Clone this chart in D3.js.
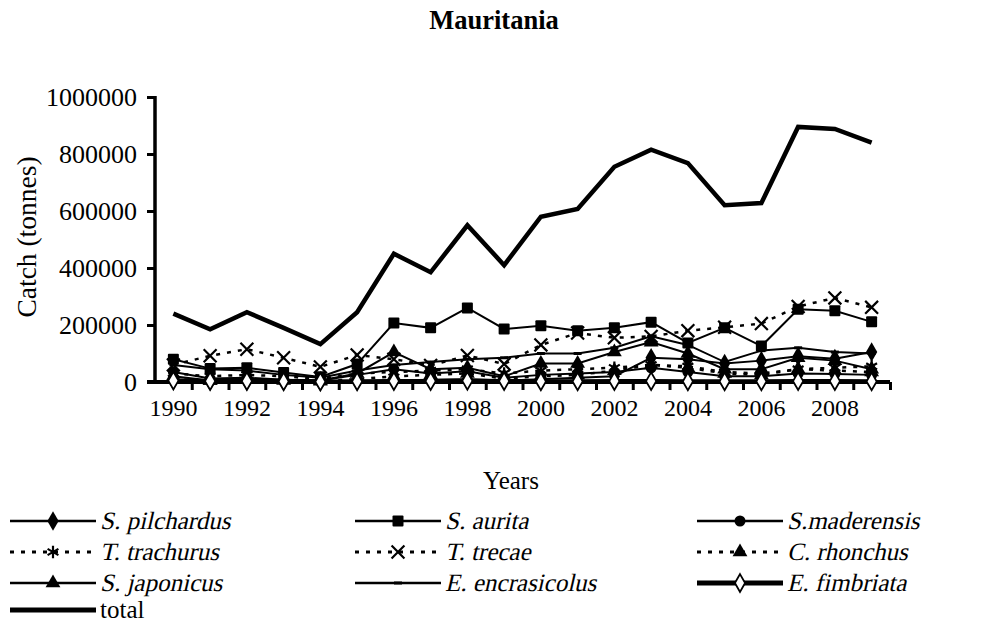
<!DOCTYPE html>
<html>
<head>
<meta charset="utf-8">
<script src="https://cdn.jsdelivr.net/npm/d3@7"></script>
<style>
  body { margin: 0; background: #fff; }
</style>
</head>
<body>
<div id="chart"></div>
<script>
// data (tonnes)
var years = d3.range(1990, 2010);
var yTicks = [0, 200000, 400000, 600000, 800000, 1000000];
var xLabels = [1990, 1992, 1994, 1996, 1998, 2000, 2002, 2004, 2006, 2008];

var sPilchardus   = [5000,3000,3000,2000,1000,3000,5000,8000,10000,5000,10000,15000,20000,85000,80000,65000,75000,90000,82000,105000];
var sAurita       = [80000,47000,50000,33000,18000,63000,207000,190000,260000,186000,197000,180000,190000,210000,137000,190000,126000,255000,250000,211000];
var sMaderensis   = [35000,12000,15000,8000,5000,25000,45000,30000,38000,15000,25000,30000,35000,50000,35000,20000,20000,30000,28000,25000];
var tTrachurus    = [30000,20000,25000,20000,10000,30000,35000,40000,45000,30000,40000,45000,50000,60000,55000,35000,30000,45000,50000,55000];
var tTrecae       = [60000,92000,115000,85000,53000,95000,80000,58000,93000,63000,130000,172000,155000,160000,180000,192000,205000,265000,295000,262000];
var cRhonchus     = [10000,5000,8000,5000,3000,10000,20000,25000,30000,12000,20000,25000,40000,60000,50000,30000,25000,45000,40000,35000];
var sJaponicus    = [20000,5000,10000,8000,5000,30000,105000,45000,50000,20000,65000,65000,105000,140000,100000,45000,45000,85000,75000,45000];
var eEncrasicolus = [60000,45000,40000,25000,15000,40000,60000,70000,80000,85000,100000,100000,120000,160000,130000,70000,110000,120000,105000,100000];
var eFimbriata    = [5000,3000,3000,2000,1000,2000,3000,3000,4000,3000,2000,2000,3000,3000,2000,2000,2000,3000,3000,2000];
var total         = [240000,185000,245000,190000,133000,245000,450000,385000,550000,410000,580000,607000,755000,815000,768000,620000,628000,895000,888000,840000];

var series = [
  {name: "S. pilchardus",   values: sPilchardus,   marker: "diamond", dash: null, width: 2},
  {name: "S. aurita",       values: sAurita,       marker: "square",  dash: null, width: 2},
  {name: "S.maderensis",    values: sMaderensis,   marker: "circle",  dash: null, width: 2},
  {name: "T. trachurus",    values: tTrachurus,    marker: "star",    dash: "4,7", width: 2.5},
  {name: "T. trecae",       values: tTrecae,       marker: "x",       dash: "4,7", width: 2.5},
  {name: "C. rhonchus",     values: cRhonchus,     marker: "triangle",dash: "4,7", width: 2.5},
  {name: "S. japonicus",    values: sJaponicus,    marker: "triangle",dash: null, width: 2},
  {name: "E. encrasicolus", values: eEncrasicolus, marker: "dash",    dash: null, width: 2},
  {name: "E. fimbriata",    values: eFimbriata,    marker: "odiamond",dash: null, width: 4.5},
  {name: "total",           values: total,         marker: null,      dash: null, width: 4.5}
];

var W = 989, H = 625;
var plotLeft = 155, plotRight = 890, plotTop = 97, plotBottom = 382;
var serif = '"Liberation Serif", "Times New Roman", Times, serif';

var svg = d3.select("#chart").append("svg")
    .attr("width", W)
    .attr("height", H);

var x = d3.scaleBand().domain(years).range([plotLeft, plotRight]);
var y = d3.scaleLinear().domain([0, 1000000]).range([plotBottom, plotTop]);

// title
svg.append("text")
   .attr("x", 494).attr("y", 29)
   .attr("text-anchor", "middle")
   .style("font-weight", "bold")
   .style("font-size", "26.5px")
   .text("Mauritania");

//y axis
var yAxis = svg.append("g")
   .attr("transform", "translate(" + plotLeft + ",0)")
   .call(d3.axisLeft(y).tickValues(yTicks).tickSize(8).tickPadding(10).tickFormat(d3.format("d")));
yAxis.select(".domain").attr("stroke", "#000").attr("stroke-width", 3.5)
   .attr("d", "M0," + (plotTop - 1) + "V" + plotBottom);
yAxis.selectAll(".tick line").attr("stroke-width", 3);
yAxis.selectAll(".tick text").style("font-size", "26px");

svg.append("text")
   .attr("transform", "translate(36,237) rotate(-90)")
   .attr("text-anchor", "middle")
   .style("font-size", "27.5px")
   .text("Catch (tonnes)");

// x axis: tick marks between the categories
var edges = d3.scaleLinear().domain([0, years.length]).range([plotLeft, plotRight]);
var xTickAxis = svg.append("g")
   .attr("transform", "translate(0," + plotBottom + ")")
   .call(d3.axisBottom(edges).tickValues(d3.range(1, years.length + 1)).tickSize(8).tickFormat(""));
xTickAxis.select(".domain").attr("stroke-width", 4).attr("d", "M" + (plotLeft - 8) + ",0H" + plotRight);
xTickAxis.selectAll(".tick line").attr("stroke-width", 3);

var xLabAxis = svg.append("g")
   .attr("transform", "translate(0," + plotBottom + ")")
   .call(d3.axisBottom(x).tickValues(xLabels).tickSize(0).tickPadding(17));
xLabAxis.select(".domain").remove();
xLabAxis.selectAll(".tick text").style("font-size", "24px");

svg.append("text")
   .attr("x", 511).attr("y", 489)
   .attr("text-anchor", "middle")
   .style("font-size", "25px")
   .text("Years");

// markers
function drawMarker(g, type, cx, cy) {
  if (type === "diamond") {
    g.append("path").attr("d", d3.symbol(d3.symbolDiamond, 110)())
     .attr("transform", "translate(" + cx + "," + cy + ")").attr("fill", "#000");
  } else if (type === "odiamond") {
    g.append("path").attr("d", d3.symbol(d3.symbolDiamond, 90)())
     .attr("transform", "translate(" + cx + "," + cy + ")")
     .attr("fill", "#fff").attr("stroke", "#000").attr("stroke-width", 1.8);
  } else if (type === "square") {
    g.append("rect").attr("x", cx - 5.5).attr("y", cy - 5.5).attr("width", 11).attr("height", 11)
     .attr("rx", 1).attr("fill", "#000");
  } else if (type === "circle") {
    g.append("circle").attr("cx", cx).attr("cy", cy).attr("r", 5.5).attr("fill", "#000");
  } else if (type === "triangle") {
    g.append("path").attr("d", d3.symbol(d3.symbolTriangle, 95)())
     .attr("transform", "translate(" + cx + "," + cy + ")").attr("fill", "#000");
  } else if (type === "x") {
    g.append("path").attr("d", d3.symbol(d3.symbolTimes, 110)())
     .attr("transform", "translate(" + cx + "," + cy + ")")
     .attr("fill", "none").attr("stroke", "#000").attr("stroke-width", 2.2);
  } else if (type === "star") {
    g.append("path").attr("d", d3.symbol(d3.symbolAsterisk, 110)())
     .attr("transform", "translate(" + cx + "," + cy + ")")
     .attr("fill", "none").attr("stroke", "#000").attr("stroke-width", 2.2);
  } else if (type === "dash") {
    g.append("rect").attr("x", cx - 4).attr("y", cy - 1.5).attr("width", 8).attr("height", 3).attr("fill", "#000");
  }
}

var line = d3.line()
   .x(function(d, i) { return x(years[i]) + x.bandwidth() / 2; })
   .y(function(d) { return y(d); });

var plot = svg.append("g");
series.forEach(function(s) {
  var g = plot.append("g");
  g.append("path")
   .datum(s.values)
   .attr("d", line)
   .attr("fill", "none")
   .attr("stroke", "#000")
   .attr("stroke-width", s.width)
   .attr("stroke-dasharray", s.dash);
  if (s.marker) {
    s.values.forEach(function(v, i) {
      drawMarker(g, s.marker, x(years[i]) + x.bandwidth() / 2, y(v));
    });
  }
});

// legend
var colX = [10, 355, 697];
var rowY = [521, 552, 583, 610];
var legend = svg.append("g");
series.forEach(function(s, i) {
  var lx = colX[i % 3], ly = rowY[Math.floor(i / 3)];
  var g = legend.append("g");
  g.append("line")
   .attr("x1", lx).attr("x2", lx + 86)
   .attr("y1", ly).attr("y2", ly)
   .attr("stroke", "#000")
   .attr("stroke-width", s.width + 0.5)
   .attr("stroke-dasharray", s.dash);
  if (s.marker) drawMarker(g, s.marker, lx + 43, ly);
  // italic serif face is not available, so slant the regular one
  var slant = s.name === "total" ? "" : " skewX(-13)";
  g.append("text")
   .attr("transform", "translate(" + (lx + 90) + "," + (ly + 8) + ")" + slant)
   .style("font-size", "25px")
   .text(s.name);
});

// every text in Times-like serif
svg.selectAll("text").style("font-family", serif).attr("fill", "#000");
</script>
</body>
</html>
